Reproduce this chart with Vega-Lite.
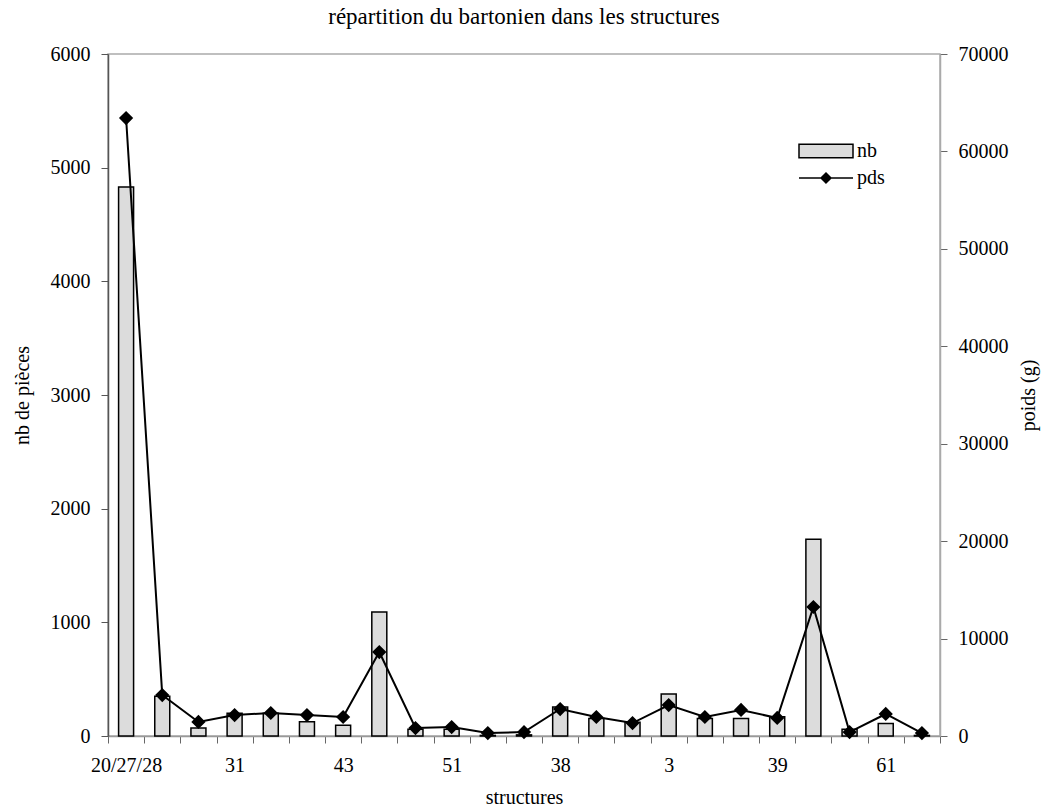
{
  "$schema": "https://vega.github.io/schema/vega-lite/v6.json",
  "width": 832,
  "height": 682,
  "autosize": "none",
  "padding": {"left": 108, "top": 54, "right": 116, "bottom": 76},
  "title": {"text": "répartition du bartonien dans les structures", "fontSize": 23, "fontWeight": "normal", "font": "Liberation Serif", "color": "black", "offset": 15},
  "config": {"font": "Liberation Serif", "view": {"stroke": "#aaa", "strokeWidth": 1.5}},
  "data": {"values": [
    {"idx": 1, "structure": "20/27/28", "nb": 4830, "pds": 63430},
    {"idx": 2, "structure": "", "nb": 350, "pds": 4200},
    {"idx": 3, "structure": "", "nb": 70, "pds": 1440},
    {"idx": 4, "structure": "31", "nb": 200, "pds": 2150},
    {"idx": 5, "structure": "", "nb": 200, "pds": 2360},
    {"idx": 6, "structure": "", "nb": 125, "pds": 2150},
    {"idx": 7, "structure": "43", "nb": 95, "pds": 1950},
    {"idx": 8, "structure": "", "nb": 1090, "pds": 8620},
    {"idx": 9, "structure": "", "nb": 60, "pds": 820},
    {"idx": 10, "structure": "51", "nb": 60, "pds": 920},
    {"idx": 11, "structure": "", "nb": 5, "pds": 300},
    {"idx": 12, "structure": "", "nb": 10, "pds": 400},
    {"idx": 13, "structure": "38", "nb": 255, "pds": 2770},
    {"idx": 14, "structure": "", "nb": 155, "pds": 1950},
    {"idx": 15, "structure": "", "nb": 120, "pds": 1330},
    {"idx": 16, "structure": "3", "nb": 370, "pds": 3180},
    {"idx": 17, "structure": "", "nb": 155, "pds": 1950},
    {"idx": 18, "structure": "", "nb": 155, "pds": 2670},
    {"idx": 19, "structure": "39", "nb": 170, "pds": 1850},
    {"idx": 20, "structure": "", "nb": 1730, "pds": 13240},
    {"idx": 21, "structure": "", "nb": 60, "pds": 400},
    {"idx": 22, "structure": "61", "nb": 110, "pds": 2260},
    {"idx": 23, "structure": "", "nb": 5, "pds": 300}
  ]},
  "encoding": {
    "x": {
      "field": "idx", "type": "ordinal",
      "scale": {"paddingInner": 0, "paddingOuter": 0},
      "axis": {
        "title": "structures",
        "labelExpr": "['20/27/28','','','31','','','43','','','51','','','38','','','3','','','39','','','61',''][datum.value-1]",
        "labelAngle": 0, "labelOverlap": false, "tickBand": "extent",
        "tickSize": 7, "labelPadding": 12, "labelFontSize": 20, "labelColor": "black",
        "titleFontSize": 20, "titleFontWeight": "normal", "titleColor": "black", "titlePadding": 12,
        "domainColor": "#999", "domainWidth": 1.5, "tickColor": "#666"
      }
    }
  },
  "layer": [
    {
      "mark": {"type": "bar", "size": 15, "stroke": "black", "strokeWidth": 1.5},
      "encoding": {
        "y": {
          "field": "nb", "type": "quantitative",
          "scale": {"domain": [0, 6000], "nice": false},
          "axis": {
            "title": "nb de pièces", "values": [0, 1000, 2000, 3000, 4000, 5000, 6000], "format": "d", "grid": false,
            "tickSize": 7, "labelPadding": 11, "labelFontSize": 20, "labelColor": "black",
            "titleFontSize": 20, "titleFontWeight": "normal", "titleColor": "black", "titlePadding": 18,
            "domainColor": "#555", "domainWidth": 1.5, "tickColor": "#555"
          }
        },
        "fill": {
          "datum": "nb",
          "scale": {"domain": ["nb"], "range": ["#dcdcdc"]},
          "legend": {
            "title": null, "orient": "none", "legendX": 702, "legendY": 81, "padding": 0,
            "symbolSize": 900, "symbolType": "M-1.8,-0.45H1.8V0.45H-1.8Z",
            "symbolStrokeColor": "black", "symbolStrokeWidth": 1.5, "symbolOpacity": 1,
            "labelOffset": 15, "labelFontSize": 20, "labelColor": "black"
          }
        }
      }
    },
    {
      "mark": {"type": "line", "strokeWidth": 2, "point": {"shape": "diamond", "size": 130, "filled": true, "color": "black"}},
      "encoding": {
        "y": {
          "field": "pds", "type": "quantitative",
          "scale": {"domain": [0, 70000], "nice": false},
          "axis": {
            "orient": "right", "title": "poids (g)", "titleAngle": 270,
            "values": [0, 10000, 20000, 30000, 40000, 50000, 60000, 70000], "format": "d", "grid": false,
            "tickSize": 7, "labelPadding": 11, "labelFontSize": 20, "labelColor": "black",
            "titleFontSize": 20, "titleFontWeight": "normal", "titleColor": "black", "titlePadding": 30,
            "domainColor": "#aaa", "domainWidth": 1.5, "tickColor": "#666"
          }
        },
        "stroke": {
          "datum": "pds",
          "scale": {"domain": ["pds"], "range": ["black"]},
          "legend": {
            "title": null, "orient": "none", "legendX": 702, "legendY": 108, "padding": 0,
            "symbolSize": 900, "symbolType": "M-1.8,0H1.8M0,-0.33L0.33,0L0,0.33L-0.33,0Z",
            "symbolStrokeWidth": 1.5, "symbolOpacity": 1,
            "labelOffset": 15, "labelFontSize": 20, "labelColor": "black",
            "encode": {"symbols": {"update": {"fill": {"value": "black"}}}}
          }
        }
      }
    }
  ],
  "resolve": {"scale": {"y": "independent"}}
}
